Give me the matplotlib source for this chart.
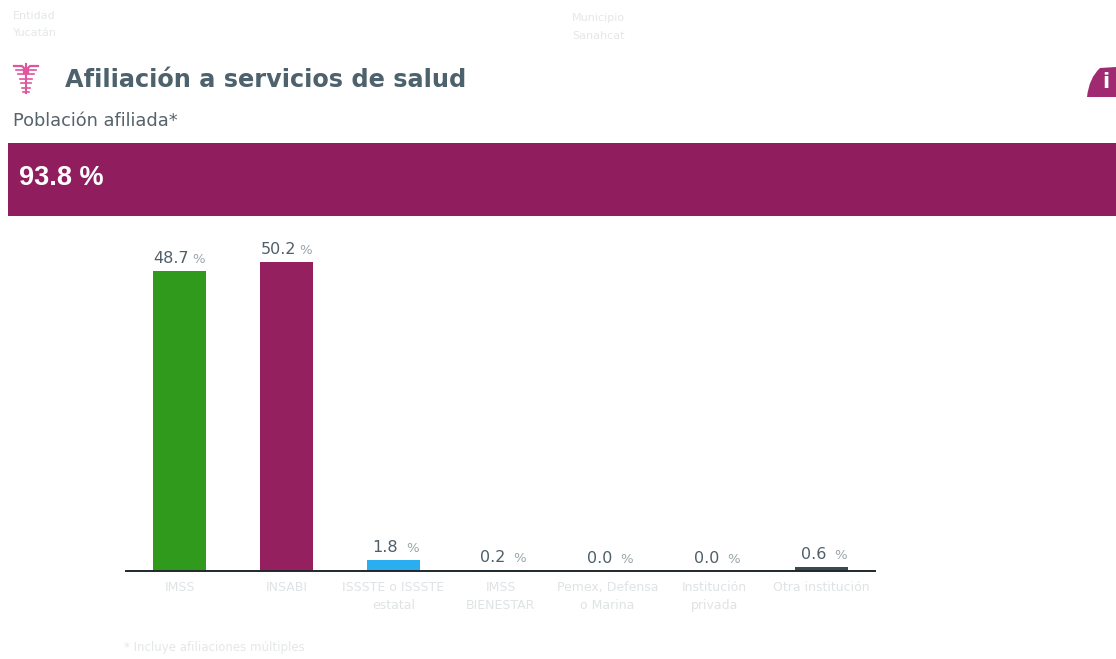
import matplotlib
matplotlib.use('Agg')
import matplotlib.pyplot as plt
from matplotlib.patches import Rectangle, PathPatch
from matplotlib.path import Path

W, H = 1116, 659

categories = ['IMSS', 'INSABI', 'ISSSTE o ISSSTE\nestatal', 'IMSS\nBIENESTAR',
              'Pemex, Defensa\no Marina', 'Institución\nprivada', 'Otra institución']
values = [48.7, 50.2, 1.8, 0.2, 0.0, 0.0, 0.6]
bar_colors = ['#2f9a1c', '#94205f', '#2aaef0', '#2aa5c8', '#94205f', '#333333', '#3a4a50']
total = '93.8 %'

plt.rcParams['font.family'] = ['DejaVu Sans']

fig = plt.figure(figsize=(W / 100, H / 100), dpi=100)

# capa en pixeles para encabezado, banda e iconos
bg = fig.add_axes([0, 0, 1, 1])
bg.set_xlim(0, W)
bg.set_ylim(H, 0)
bg.axis('off')

faint = '#e4e7e8'
bg.text(13, 16, 'Entidad', fontsize=8, color=faint, va='center')
bg.text(13, 33, 'Yucatán', fontsize=8, color=faint, va='center')
bg.text(572, 18, 'Municipio', fontsize=8, color=faint, va='center')
bg.text(572, 36, 'Sanahcat', fontsize=8, color=faint, va='center')

# icono caduceo
pink = '#e0559c'
bg.plot([26, 26], [64, 93], color=pink, lw=1.5)
bg.plot([14, 22, 24, 24], [66, 66, 68, 73], color=pink, lw=1.6)
bg.plot([38, 30, 28, 28], [66, 66, 68, 73], color=pink, lw=1.6)
for y, x0, x1 in [(70, 16, 23), (70, 29, 36), (74, 18, 34), (79, 20, 32), (83, 21, 31), (88, 22, 30), (92, 23, 29)]:
    bg.plot([x0, x1], [y, y], color=pink, lw=1.2)

bg.text(65, 80, 'Afiliación a servicios de salud', fontsize=17.3, fontweight='bold',
        color='#4d626c', va='center')
bg.text(13, 121, 'Población afiliada*', fontsize=12.8, color='#56636a', va='center')

bg.add_patch(Rectangle((8, 143), W - 8, 73, color='#901d5e', lw=0))
bg.text(19, 178, total, fontsize=19.5, fontweight='bold', color='white', va='center',
        family=['Liberation Sans', 'DejaVu Sans'])

# icono info
drop = Path([(1087, 97), (1089, 78), (1100, 68), (1116, 67), (1116, 97), (1087, 97)],
            [Path.MOVETO, Path.CURVE3, Path.CURVE3, Path.LINETO, Path.LINETO, Path.CLOSEPOLY])
bg.add_patch(PathPatch(drop, facecolor='#a02a72', edgecolor='none'))
bg.text(1106, 82, 'i', fontsize=15, fontweight='bold', color='white', ha='center', va='center')

bg.text(124, 648, '* Incluye afiliaciones múltiples', fontsize=8.5, color=faint, va='center')

# grafica de barras: x 126-875, base en y=571
ax = fig.add_axes([126 / W, 1 - 571 / H, (875 - 126) / W, (571 - 222) / H])
ax.patch.set_alpha(0)
pos = list(range(len(categories)))
bars = ax.bar(pos, values, width=0.5, color=bar_colors)
ax.set_xlim(-0.5, len(categories) - 0.5)
ax.set_ylim(0, 56.7)
for bar, val in zip(bars, values):
    xc = bar.get_x() + bar.get_width() / 2
    ax.annotate(f'{val:.1f}', (xc, val), textcoords='offset pixels', xytext=(-8, 5),
                ha='center', va='bottom', fontsize=11.5, color='#4e5f68')
    ax.annotate('%', (xc, val), textcoords='offset pixels', xytext=(19, 5),
                ha='center', va='bottom', fontsize=9.5, color='#9aa5aa')

for s in ['top', 'left', 'right']:
    ax.spines[s].set_visible(False)
ax.spines['bottom'].set_color('#20282c')
ax.spines['bottom'].set_linewidth(1.4)
ax.set_yticks([])
ax.set_xticks(pos)
ax.set_xticklabels(categories, fontsize=9, color='#dfe3e5', linespacing=1.55)
ax.tick_params(axis='x', length=0, pad=7)

fig.savefig('out.png', dpi=100)
